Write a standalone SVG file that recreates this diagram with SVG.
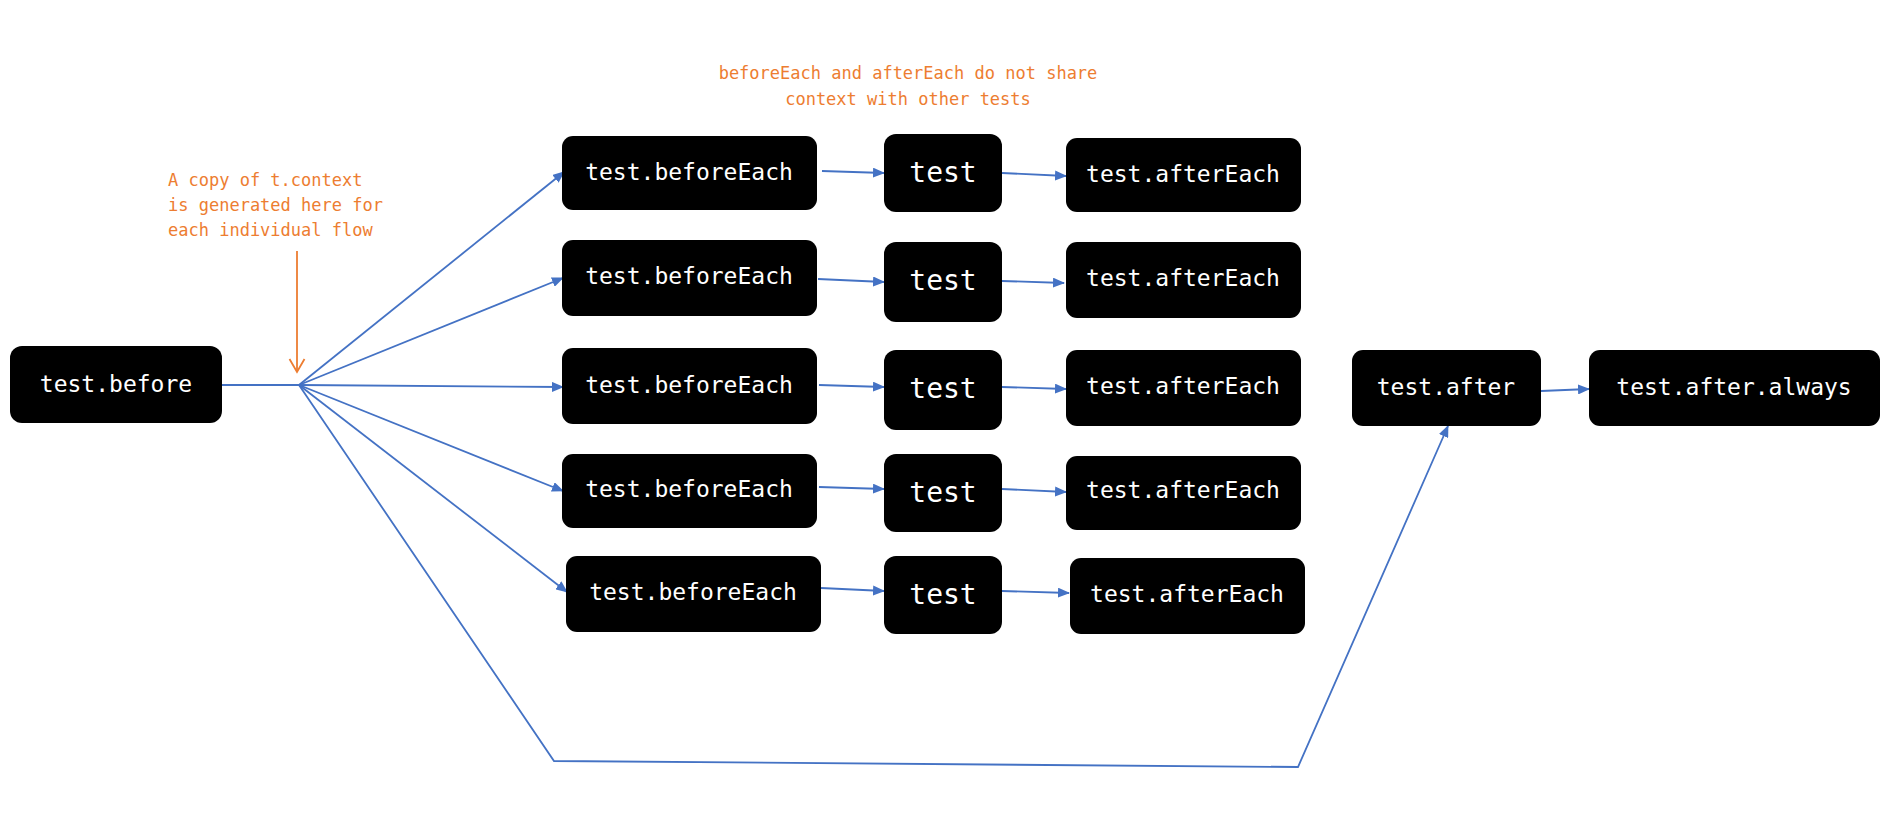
<svg xmlns="http://www.w3.org/2000/svg" width="1890" height="828" viewBox="0 0 1890 828">
<style>
.box{fill:#000}
.lbl{font-family:"DejaVu Sans Mono","Liberation Mono",monospace;font-size:23px;fill:#fff;text-anchor:middle}
.big{font-size:28px}
.note{font-family:"DejaVu Sans Mono","Liberation Mono",monospace;font-size:17px;fill:#ED7D31}
.con{stroke:#4472C4;stroke-width:1.8;fill:none}
.arr{marker-end:url(#ah)}
</style>
<defs>
<marker id="ah" markerWidth="12" markerHeight="10" refX="11" refY="5" orient="auto" markerUnits="userSpaceOnUse">
<path d="M0,0 L12,5 L0,10 Z" fill="#4472C4"/>
</marker>
</defs>
<rect width="1890" height="828" fill="#fff"/>

<g id="connectors">
<line class="con" x1="222" y1="385" x2="299" y2="385"/>
<line class="con arr" x1="299" y1="385" x2="564" y2="172"/>
<line class="con arr" x1="299" y1="385" x2="563" y2="278"/>
<line class="con arr" x1="299" y1="385" x2="563" y2="387"/>
<line class="con arr" x1="299" y1="385" x2="563" y2="491"/>
<line class="con arr" x1="299" y1="385" x2="567" y2="592"/>
<polyline class="con arr" points="299,385 554,761 1298,767 1448,426"/>
<line class="con arr" x1="822" y1="171" x2="884" y2="173"/>
<line class="con arr" x1="1002" y1="173" x2="1066" y2="176"/>
<line class="con arr" x1="818" y1="279" x2="884" y2="282"/>
<line class="con arr" x1="1002" y1="281" x2="1064" y2="283"/>
<line class="con arr" x1="819" y1="385" x2="884" y2="387"/>
<line class="con arr" x1="1002" y1="387" x2="1066" y2="389"/>
<line class="con arr" x1="819" y1="487" x2="884" y2="489"/>
<line class="con arr" x1="1002" y1="489" x2="1066" y2="492"/>
<line class="con arr" x1="821" y1="588" x2="884" y2="591"/>
<line class="con arr" x1="1002" y1="591" x2="1069" y2="593"/>
<line class="con arr" x1="1541" y1="391" x2="1589" y2="389"/>
</g>

<g id="annotations">
<text class="note" x="168" y="186">A copy of t.context</text>
<text class="note" x="168" y="211">is generated here for</text>
<text class="note" x="168" y="236">each individual flow</text>
<line x1="297" y1="251" x2="297" y2="372" stroke="#ED7D31" stroke-width="1.8"/>
<polyline points="289.5,359 297,372 304.5,359" fill="none" stroke="#ED7D31" stroke-width="1.8"/>
<text class="note" x="908" y="79" text-anchor="middle">beforeEach and afterEach do not share</text>
<text class="note" x="908" y="105" text-anchor="middle">context with other tests</text>
</g>

<g id="test-before"><rect class="box" x="10" y="346" width="212" height="77" rx="12"/><text class="lbl" x="116" y="392">test.before</text></g>

<g id="beforeEach-1"><rect class="box" x="562" y="136" width="255" height="74" rx="11"/><text class="lbl" x="689" y="180">test.beforeEach</text></g>
<g id="test-1"><rect class="box" x="884" y="134" width="118" height="78" rx="12"/><text class="lbl big" x="943" y="182">test</text></g>
<g id="afterEach-1"><rect class="box" x="1066" y="138" width="235" height="74" rx="11"/><text class="lbl" x="1183" y="182">test.afterEach</text></g>

<g id="beforeEach-2"><rect class="box" x="562" y="240" width="255" height="76" rx="11"/><text class="lbl" x="689" y="284">test.beforeEach</text></g>
<g id="test-2"><rect class="box" x="884" y="242" width="118" height="80" rx="12"/><text class="lbl big" x="943" y="290">test</text></g>
<g id="afterEach-2"><rect class="box" x="1066" y="242" width="235" height="76" rx="11"/><text class="lbl" x="1183" y="286">test.afterEach</text></g>

<g id="beforeEach-3"><rect class="box" x="562" y="348" width="255" height="76" rx="11"/><text class="lbl" x="689" y="393">test.beforeEach</text></g>
<g id="test-3"><rect class="box" x="884" y="350" width="118" height="80" rx="12"/><text class="lbl big" x="943" y="398">test</text></g>
<g id="afterEach-3"><rect class="box" x="1066" y="350" width="235" height="76" rx="11"/><text class="lbl" x="1183" y="394">test.afterEach</text></g>

<g id="beforeEach-4"><rect class="box" x="562" y="454" width="255" height="74" rx="11"/><text class="lbl" x="689" y="497">test.beforeEach</text></g>
<g id="test-4"><rect class="box" x="884" y="454" width="118" height="78" rx="12"/><text class="lbl big" x="943" y="502">test</text></g>
<g id="afterEach-4"><rect class="box" x="1066" y="456" width="235" height="74" rx="11"/><text class="lbl" x="1183" y="498">test.afterEach</text></g>

<g id="beforeEach-5"><rect class="box" x="566" y="556" width="255" height="76" rx="11"/><text class="lbl" x="693" y="600">test.beforeEach</text></g>
<g id="test-5"><rect class="box" x="884" y="556" width="118" height="78" rx="12"/><text class="lbl big" x="943" y="604">test</text></g>
<g id="afterEach-5"><rect class="box" x="1070" y="558" width="235" height="76" rx="11"/><text class="lbl" x="1187" y="602">test.afterEach</text></g>

<g id="test-after"><rect class="box" x="1352" y="350" width="189" height="76" rx="11"/><text class="lbl" x="1446" y="395">test.after</text></g>
<g id="test-after-always"><rect class="box" x="1589" y="350" width="291" height="76" rx="11"/><text class="lbl" x="1734" y="395">test.after.always</text></g>
</svg>
